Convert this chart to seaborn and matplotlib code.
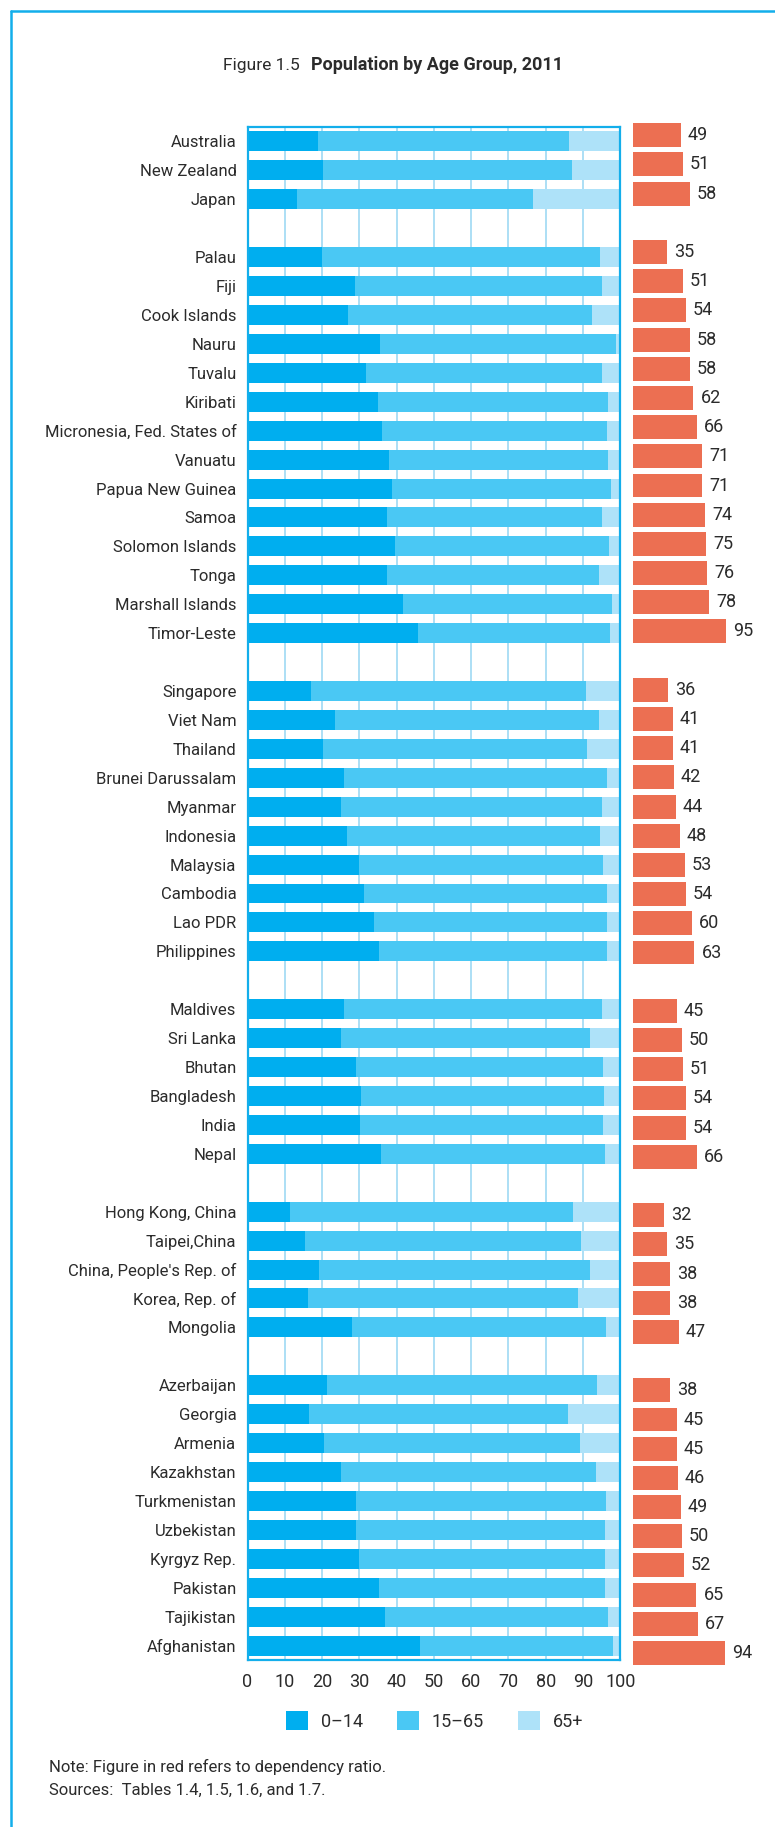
import numpy as np
import pandas as pd
import matplotlib
matplotlib.use("Agg")
import matplotlib.pyplot as plt
from matplotlib.patches import Patch
from matplotlib.lines import Line2D
import seaborn as sns

# data (percent of population, and dependency ratio)
countries = [
    "Australia", "New Zealand", "Japan",
    "Palau", "Fiji", "Cook Islands", "Nauru", "Tuvalu", "Kiribati",
    "Micronesia, Fed. States of", "Vanuatu", "Papua New Guinea", "Samoa",
    "Solomon Islands", "Tonga", "Marshall Islands", "Timor-Leste",
    "Singapore", "Viet Nam", "Thailand", "Brunei Darussalam", "Myanmar",
    "Indonesia", "Malaysia", "Cambodia", "Lao PDR", "Philippines",
    "Maldives", "Sri Lanka", "Bhutan", "Bangladesh", "India", "Nepal",
    "Hong Kong, China", "Taipei,China", "China, People's Rep. of",
    "Korea, Rep. of", "Mongolia",
    "Azerbaijan", "Georgia", "Armenia", "Kazakhstan", "Turkmenistan",
    "Uzbekistan", "Kyrgyz Rep.", "Pakistan", "Tajikistan", "Afghanistan",
]
group_sizes = [3, 14, 10, 6, 5, 10]

age_0_14 = [18.9, 20.3, 13.3,
            20.1, 28.8, 27.0, 35.6, 31.9, 35.1, 36.1, 38.0, 38.8, 37.5, 39.6, 37.5, 41.7, 45.8,
            16.9, 23.4, 20.3, 26.0, 25.2, 26.8, 30.0, 31.3, 33.9, 35.2,
            25.8, 25.0, 29.0, 30.5, 30.3, 35.7,
            11.3, 15.3, 19.3, 16.3, 27.9,
            21.2, 16.6, 20.5, 25.2, 29.0, 29.0, 30.0, 35.2, 36.8, 46.2]
age_15_65 = [67.4, 66.7, 63.3,
             74.5, 66.3, 65.4, 63.2, 63.2, 61.6, 60.3, 58.7, 58.7, 57.6, 57.3, 56.8, 56.0, 51.4,
             73.9, 70.9, 70.8, 70.4, 69.9, 67.8, 65.4, 65.1, 62.5, 61.2,
             69.3, 66.9, 66.4, 65.1, 65.1, 60.2,
             76.0, 74.1, 72.6, 72.3, 68.2,
             72.6, 69.3, 68.6, 68.3, 67.1, 66.9, 65.9, 60.7, 59.9, 51.8]
age_65_plus = [13.7, 13.0, 23.4,
               5.4, 4.9, 7.6, 1.2, 4.9, 3.3, 3.6, 3.3, 2.5, 4.9, 3.1, 5.7, 2.3, 2.8,
               9.2, 5.7, 8.9, 3.6, 4.9, 5.4, 4.6, 3.6, 3.6, 3.6,
               4.9, 8.1, 4.6, 4.4, 4.6, 4.1,
               12.7, 10.6, 8.1, 11.4, 3.9,
               6.2, 14.1, 10.9, 6.5, 3.9, 4.1, 4.1, 4.1, 3.3, 2.0]
dep_ratio = [49, 51, 58,
             35, 51, 54, 58, 58, 62, 66, 71, 71, 74, 75, 76, 78, 95,
             36, 41, 41, 42, 44, 48, 53, 54, 60, 63,
             45, 50, 51, 54, 54, 66,
             32, 35, 38, 38, 47,
             38, 45, 45, 46, 49, 50, 52, 65, 67, 94]
legend_labels = ["0\u201314", "15\u201365", "65+"]

c_young = "#00AEEF"
c_work = "#4AC8F4"
c_old = "#AEE2F9"
c_red = "#EC6F52"
c_line = "#13AEEB"
c_grid = "#9ED9F3"
c_text = "#2B2B2B"

sns.set_style("white")
plt.rcParams["font.family"] = ["Roboto", "DejaVu Sans"]
plt.rcParams["text.color"] = c_text

df = pd.DataFrame({"country": countries, "young": age_0_14,
                   "work": age_15_65, "old": age_65_plus, "dep": dep_ratio})
df["c1"] = df["young"]
df["c2"] = df["young"] + df["work"]
df["c3"] = df["c2"] + df["old"]

# row order with a blank row between regional groups
row_order = []
start = 0
for i, n in enumerate(group_sizes):
    row_order += countries[start:start + n]
    start += n
    if i < len(group_sizes) - 1:
        row_order.append(" " * (i + 1))
n_rows = len(row_order)

fig = plt.figure(figsize=(7.75, 18.27), dpi=100)
ax = fig.add_axes([0.3194, 0.0914, 0.4810, 0.8391])
ax2 = fig.add_axes([0.8164, 0.08725, 0.1265, 0.8467])

# stacked bars drawn as overlapping cumulative totals
for col, colr in [("c3", c_old), ("c2", c_work), ("c1", c_young)]:
    sns.barplot(data=df, x=col, y="country", order=row_order, orient="h",
                color=colr, saturation=1, width=0.69, errorbar=None,
                linewidth=0, ax=ax)

ax.set_xlim(0, 100)
ax.set_ylim(n_rows - 0.5, -0.5)
ax.set_xticks(range(0, 101, 10))
ax.set_xlabel("")
ax.set_ylabel("")
ax.grid(axis="x", color=c_grid, linewidth=1.2)
ax.grid(axis="y", visible=False)
ax.set_axisbelow(True)
for s in ax.spines.values():
    s.set_color(c_line)
    s.set_linewidth(1.6)
ax.set_yticks(np.arange(-0.5, n_rows, 1), minor=True)
ax.tick_params(axis="y", which="major", length=0, pad=8, labelsize=12,
               labelcolor=c_text)
ax.tick_params(axis="y", which="minor", length=5.5, width=1.4, color=c_line,
               direction="out")
ax.tick_params(axis="x", which="major", length=5, width=1.4, color=c_line,
               direction="out", pad=4, labelsize=13, labelcolor=c_text)

# dependency ratio bars
sns.barplot(data=df, x="dep", y="country", order=row_order, orient="h",
            color=c_red, saturation=1, width=0.82, errorbar=None,
            linewidth=0, ax=ax2)
ax2.set_xlim(0, 100)
ax2.set_ylim(n_rows - 0.5, -0.5)
ax2.axis("off")
ax2.bar_label(ax2.containers[0], fmt="%d", padding=5, fontsize=13,
              color=c_text, clip_on=False)

# title
fig.text(0.387, 0.9644, "Figure 1.5", ha="right", va="center", fontsize=12.5)
fig.text(0.401, 0.9644, "Population by Age Group, 2011", ha="left",
         va="center", fontsize=13, fontweight="bold")

# legend
handles = [Patch(facecolor=c, edgecolor="none") for c in (c_young, c_work, c_old)]
fig.legend(handles, legend_labels, loc="center", bbox_to_anchor=(0.561, 0.058),
           ncol=3, frameon=False, fontsize=13, handlelength=1.22,
           handleheight=1.22, handletextpad=0.7, columnspacing=1.9)

# notes
fig.text(0.0626, 0.0330, "Note: Figure in red refers to dependency ratio.",
         ha="left", va="center", fontsize=12)
fig.text(0.0626, 0.0203, "Sources:  Tables 1.4, 1.5, 1.6, and 1.7.",
         ha="left", va="center", fontsize=12)

# frame line along top and left edge
fig.add_artist(Line2D([0.0142, 0.0142], [0, 0.9942], color=c_line, lw=1.8))
fig.add_artist(Line2D([0.0142, 1.0], [0.9942, 0.9942], color=c_line, lw=1.8))

fig.savefig("out.png", dpi=100)
